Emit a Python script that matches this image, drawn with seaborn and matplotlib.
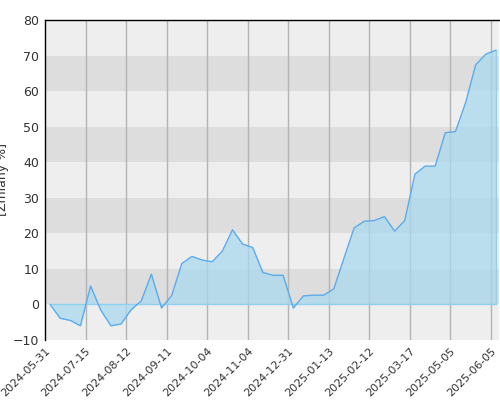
import matplotlib
matplotlib.use("Agg")
import matplotlib.pyplot as plt
import seaborn as sns
import numpy as np
import pandas as pd

values = [0, -3.9, -4.5, -6, 5.2, -1.6, -6, -5.5, -1.5, 1, 8.5, -1, 2.5, 11.5, 13.5,
          12.5, 12, 15, 21, 17, 16, 9, 8.2, 8.2, -1, 2.4, 2.6, 2.6, 4.4, 13, 21.5,
          23.4, 23.6, 24.7, 20.6, 23.6, 36.6, 38.9, 38.9, 48.3, 48.6, 56.7, 67.4, 70.4, 71.5]
tick_labels = ["2024-05-31", "2024-07-15", "2024-08-12", "2024-09-11", "2024-10-04",
               "2024-11-04", "2024-12-31", "2025-01-13", "2025-02-12", "2025-03-17",
               "2025-05-05", "2025-06-05"]

df = pd.DataFrame({"i": np.arange(len(values)), "v": values})
sns.set_style("white")
fig = plt.figure(figsize=(5, 4), dpi=100)
ax = fig.add_axes([0.09, 0.15, 0.908, 0.80])

for k, lo in enumerate(range(-10, 80, 10)):
    ax.axhspan(lo, lo + 10, color="#eeeeee" if k % 2 == 0 else "#dddddd", lw=0, zorder=0)

ticks = [-0.5 + 4 * k for k in range(len(tick_labels))]
for t in ticks[1:]:
    ax.axvline(t, color="#b4b4b4", lw=1, zorder=1)

ax.fill_between(df["i"], df["v"], 0, color="#a9d9ee", alpha=0.75, lw=0, zorder=2)
ax.plot([0, len(values) - 1], [0, 0], color="#8fd0ee", lw=1, zorder=2)
ax.plot([len(values) - 1] * 2, [0, values[-1]], color="#8fd0ee", lw=1, zorder=2)
sns.lineplot(data=df, x="i", y="v", color="#5aabec", lw=1, ax=ax, zorder=3)

ax.set_xlim(-0.5, 44.3)
ax.set_ylim(-10, 80)
ax.set_xticks(ticks)
ax.set_xticklabels(tick_labels, rotation=45, ha="right", rotation_mode="anchor", fontsize=8, color="#333333")
ax.set_yticks(range(-10, 90, 10))
ax.tick_params(axis="y", labelsize=9, colors="#333333", length=0, pad=4)
ax.tick_params(axis="x", length=0, pad=4)
ax.set_xlabel("")
ax.set_ylabel("[Zmiany %]", fontsize=9, color="#333333", labelpad=3)
for s in ["right", "bottom"]:
    ax.spines[s].set_visible(False)
for s in ["left", "top"]:
    ax.spines[s].set_color("black")
    ax.spines[s].set_linewidth(1)
fig.savefig("out.png", dpi=100)
